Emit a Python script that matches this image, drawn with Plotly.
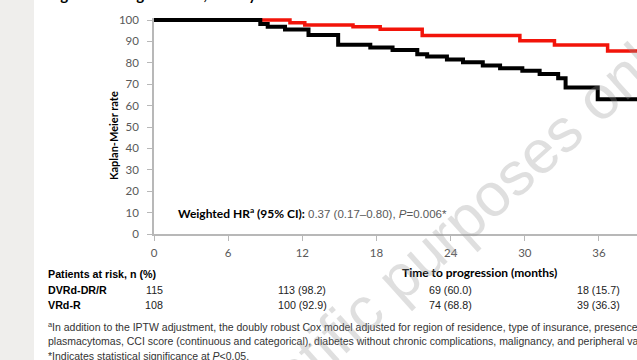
import plotly.graph_objects as go

# ---- data ----
months_dvrd = [0, 11.0, 12.2, 16.1, 18.3, 21.7, 29.6, 32.4, 36.7, 40.0]
rate_dvrd = [100, 98.7, 97.7, 96.9, 95.7, 92.7, 90.3, 88.3, 85.5, 85.5]

months_vrd = [0, 8.6, 9.2, 10.6, 12.5, 14.9, 17.5, 19.3, 21.3, 22.1, 23.7, 25.0,
              26.6, 28.0, 29.8, 31.2, 32.7, 33.3, 35.9, 40.0]
rate_vrd = [100, 98.1, 96.9, 95.6, 93.0, 88.4, 87.1, 86.0, 84.0, 82.9, 81.6, 80.2,
            78.7, 77.4, 76.3, 74.8, 72.8, 68.5, 63.0, 63.0]

x_ticks = [0, 6, 12, 18, 24, 30, 36]
y_ticks = [0, 10, 20, 30, 40, 50, 60, 70, 80, 90, 100]

risk_times = [0, 12, 24, 36]
risk_dvrd = ["115", "113 (98.2)", "69 (60.0)", "18 (15.7)"]
risk_vrd = ["108", "100 (92.9)", "74 (68.8)", "39 (36.3)"]

W, H = 637, 360
L, R, T, B = 154, 0, 18, 126
PW, PH = W - L - R, H - T - B


def px_x(px):
    return (px - L) / PW


def px_y(py):
    return (H - B - py) / PH


CAL = "Lato"
ARI = "Liberation Sans"

fig = go.Figure()
fig.add_trace(go.Scatter(x=months_dvrd, y=rate_dvrd, mode="lines", line_shape="hv",
                         line=dict(color="#f2140a", width=3.5), name="DVRd-DR/R",
                         showlegend=False))
fig.add_trace(go.Scatter(x=months_vrd, y=rate_vrd, mode="lines", line_shape="hv",
                         line=dict(color="#000000", width=4), name="VRd-R",
                         showlegend=False))

axis_col = "#b8b8b8"
fig.update_xaxes(range=[0, PW / 12.36], tickvals=x_ticks, showline=True,
                 linecolor=axis_col, linewidth=1.5, ticks="outside", ticklen=5,
                 tickcolor=axis_col, tickwidth=1.2, showgrid=False, zeroline=False,
                 tickfont=dict(family=CAL, size=11.5, color="#595959"),
                 ticklabelstandoff=2)
fig.update_yaxes(range=[0, 100 * PH / 214], tickvals=y_ticks, showline=True,
                 linecolor=axis_col, linewidth=1.5, ticks="outside", ticklen=5,
                 tickcolor=axis_col, tickwidth=1.2, showgrid=False, zeroline=False,
                 tickfont=dict(family=CAL, size=11.5, color="#595959"),
                 ticklabelstandoff=6)


def note(x, y, text, font, xanchor="left", yanchor="middle", xref="paper", **kw):
    d = dict(x=x, y=y, xref=xref, yref="paper", xanchor=xanchor, yanchor=yanchor,
             showarrow=False, text=text, font=font)
    d.update(kw)
    return d


ann = []
# title (cut off at top)
ann.append(note(px_x(46), px_y(5), "<b>Figure 2. Weighted TTP, doubly robust Cox model</b>",
                dict(family=CAL, size=15, color="#000"), yanchor="bottom"))
# axis titles
ann.append(note(px_x(113), px_y(136), "<b>Kaplan-Meier rate</b>",
                dict(family=CAL, size=11, color="#000"), xanchor="center", textangle=-90))
ann.append(note(px_x(479), px_y(272), "<b>Time to progression (months)</b>",
                dict(family=CAL, size=12, color="#000"), xanchor="center"))
# HR
ann.append(note(px_x(176), px_y(213),
                "<b>Weighted HR<sup>a</sup> (95% CI):</b> "
                "<span style='font-family:Liberation Sans;font-size:11.5px;color:#595959'>"
                "0.37 (0.17–0.80), <i>P</i>=0.006*</span>",
                dict(family=CAL, size=12, color="#000")))
# risk table
rfont = dict(family=ARI, size=10.7, color="#000")
ann.append(note(px_x(46), px_y(274), "<b>Patients at risk, n (%)</b>", rfont))
ann.append(note(px_x(46), px_y(290), "<b>DVRd-DR/R</b>", rfont))
ann.append(note(px_x(46), px_y(305), "<b>VRd-R</b>", rfont))
nfont = dict(family=ARI, size=10.7, color="#222")
for t, a, b in zip(risk_times, risk_dvrd, risk_vrd):
    ann.append(note(t, px_y(290), a, nfont, xanchor="center", xref="x"))
    ann.append(note(t, px_y(305), b, nfont, xanchor="center", xref="x"))
# footnotes
foot = [
    "<sup>a</sup>In addition to the IPTW adjustment, the doubly robust Cox model adjusted for region of residence, type of insurance, presence of extramedullary",
    "plasmacytomas, CCI score (continuous and categorical), diabetes without chronic complications, malignancy, and peripheral vascular disease.",
    "*Indicates statistical significance at <i>P</i>&lt;0.05.",
]
for i, f in enumerate(foot):
    ann.append(note(px_x(46), px_y(326 + 15 * i), f,
                    dict(family=ARI, size=10.5, color="#333")))
# watermark
ann.append(note(px_x(434), px_y(246), "scientific purposes only",
                dict(family=ARI, size=61, color="rgba(150,150,150,0.3)"),
                xanchor="center", textangle=-42))

shapes = [dict(type="rect", xref="paper", yref="paper", x0=px_x(0), x1=px_x(34),
               y0=px_y(H), y1=px_y(0), fillcolor="#efeeec", line=dict(width=0),
               layer="below")]

fig.update_layout(width=W, height=H, margin=dict(l=L, r=R, t=T, b=B),
                  paper_bgcolor="white", plot_bgcolor="white",
                  annotations=ann, shapes=shapes)

fig.write_html("out.html", config={"displayModeBar": False},
               post_script="document.body.style.margin='0';")
